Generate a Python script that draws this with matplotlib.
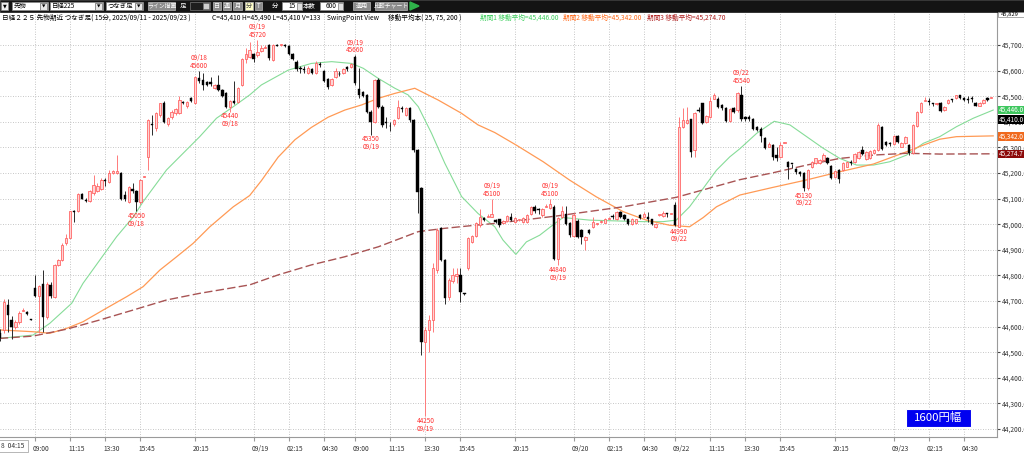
import matplotlib
matplotlib.use('Agg')
import matplotlib.pyplot as plt
import numpy as np
from matplotlib.patches import Rectangle, Polygon
from matplotlib.transforms import ScaledTranslation

plt.rcParams['font.family'] = ['Noto Sans CJK JP', 'DejaVu Sans']

# ---------------- data (15-minute bars, Nikkei 225 futures) ----------------
opens = [44575, 44586, 44683, 44627, 44598, 44618, 44662, 44657, 44628, 44751,
         44718, 44768, 44638, 44761, 44716, 44839, 44859, 44927, 44947, 45052,
         45050, 45119, 45093, 45089, 45120, 45130, 45139, 45170, 45165, 45200,
         45200, 45200, 45113, 45087, 45139, 45130, 45087, 45185, 45264, 45392,
         45374, 45427, 45475, 45391, 45418, 45433, 45433, 45476, 45460, 45492,
         45472, 45572, 45563, 45554, 45556, 45531, 45544, 45524, 45514, 45459,
         45482, 45479, 45544, 45644, 45655, 45665, 45660, 45676, 45690, 45700,
         45642, 45700, 45699, 45700, 45696, 45665, 45635, 45608, 45606, 45592,
         45605, 45592, 45625, 45600, 45566, 45544, 45574, 45587, 45592, 45613,
         45615, 45655, 45530, 45518, 45505, 45440, 45401, 45563, 45459, 45401,
         45385, 45392, 45414, 45452, 45427, 45453, 45408, 45290, 45140, 44541,
         44587, 44626, 44821, 44984, 44860, 44717, 44780, 44798, 44802, 44728,
         44828, 44932, 44955, 44997, 45025, 45030, 45030, 45016, 45019, 45003,
         45013, 45029, 45010, 45016, 45010, 45010, 45039, 45068, 45058, 45036,
         45068, 45062, 45068, 44866, 45030, 45039, 45006, 44954, 45013, 44977,
         44938, 44977, 44990, 45000, 45010, 45006, 45019, 45029, 45019, 45049,
         45036, 45019, 45000, 45003, 45036, 45029, 45029, 45019, 44990, 45035,
         45032, 45040, 45040, 45075, 44990, 45381, 45394, 45409, 45290, 45446,
         45472, 45400, 45420, 45491, 45491, 45465, 45452, 45405, 45452, 45446,
         45505, 45418, 45420, 45410, 45378, 45371, 45336, 45303, 45310, 45271,
         45264, 45319, 45244, 45235, 45215, 45205, 45199, 45140, 45225, 45241,
         45238, 45251, 45257, 45228, 45186, 45212, 45212, 45225, 45243, 45244,
         45257, 45290, 45255, 45257, 45280, 45290, 45381, 45322, 45315, 45314,
         45345, 45303, 45319, 45310, 45277, 45384, 45440, 45482, 45479, 45472,
         45470, 45475, 45447, 45472, 45485, 45494, 45503, 45494, 45487, 45489,
         45472, 45463, 45472, 45494, 45494]
highs = [44590, 44706, 44709, 44640, 44625, 44660, 44672, 44660, 44630, 44800,
         44762, 44820, 44775, 44775, 44845, 44865, 44925, 44960, 45052, 45055,
         45122, 45122, 45102, 45135, 45191, 45160, 45180, 45182, 45210, 45212,
         45269, 45205, 45130, 45150, 45160, 45135, 45175, 45188, 45410, 45427,
         45440, 45475, 45480, 45420, 45445, 45455, 45500, 45482, 45483, 45495,
         45578, 45600, 45590, 45558, 45575, 45548, 45583, 45528, 45518, 45485,
         45560, 45535, 45650, 45690, 45710, 45670, 45720, 45700, 45700, 45705,
         45705, 45705, 45705, 45705, 45700, 45668, 45640, 45618, 45618, 45618,
         45610, 45636, 45632, 45604, 45570, 45572, 45612, 45598, 45610, 45618,
         45630, 45660, 45609, 45522, 45510, 45445, 45568, 45570, 45465, 45420,
         45400, 45412, 45485, 45460, 45458, 45458, 45412, 45295, 45145, 44600,
         44646, 44848, 44984, 44990, 44865, 44788, 44828, 44828, 44828, 44730,
         44950, 44958, 45010, 45058, 45030, 45040, 45100, 45020, 45022, 45018,
         45036, 45045, 45027, 45020, 45027, 45040, 45072, 45075, 45065, 45062,
         45080, 45100, 45075, 45030, 45070, 45070, 45010, 45042, 45019, 44983,
         44955, 44980, 45029, 45003, 45015, 45024, 45030, 45040, 45052, 45052,
         45040, 45022, 45023, 45022, 45040, 45049, 45049, 45022, 45004, 45037,
         45050, 45042, 45042, 45085, 45420, 45452, 45459, 45412, 45440, 45459,
         45475, 45426, 45495, 45511, 45495, 45468, 45456, 45455, 45456, 45515,
         45540, 45422, 45425, 45413, 45382, 45381, 45340, 45323, 45314, 45303,
         45323, 45322, 45248, 45236, 45218, 45208, 45202, 45215, 45248, 45260,
         45255, 45277, 45262, 45232, 45212, 45215, 45242, 45245, 45250, 45277,
         45287, 45306, 45287, 45290, 45295, 45394, 45385, 45325, 45322, 45350,
         45348, 45320, 45346, 45314, 45392, 45444, 45476, 45495, 45492, 45473,
         45475, 45478, 45463, 45488, 45490, 45506, 45506, 45498, 45500, 45500,
         45476, 45476, 45488, 45497, 45497]
lows = [44545, 44575, 44579, 44553, 44590, 44612, 44660, 44645, 44625, 44715,
        44575, 44580, 44630, 44710, 44712, 44835, 44855, 44920, 44945, 45009,
        45048, 45098, 45085, 45085, 45115, 45125, 45135, 45150, 45160, 45198,
        45198, 45095, 45090, 45082, 45120, 45050, 45080, 45184, 45212, 45350,
        45365, 45420, 45395, 45385, 45412, 45428, 45430, 45468, 45455, 45478,
        45468, 45553, 45525, 45540, 45540, 45528, 45520, 45495, 45455, 45440,
        45468, 45475, 45540, 45630, 45650, 45635, 45655, 45672, 45688, 45640,
        45638, 45695, 45695, 45693, 45660, 45640, 45600, 45590, 45590, 45588,
        45588, 45588, 45615, 45555, 45530, 45538, 45570, 45578, 45588, 45600,
        45610, 45545, 45492, 45495, 45435, 45350, 45395, 45452, 45380, 45375,
        45365, 45385, 45410, 45440, 45422, 45400, 45282, 45043, 44489, 44250,
        44500, 44580, 44808, 44855, 44690, 44705, 44770, 44770, 44697, 44725,
        44820, 44928, 44950, 44990, 45012, 45029, 45028, 45005, 44990, 45000,
        45010, 45012, 45005, 45012, 45006, 45006, 45035, 45042, 45040, 45030,
        45068, 45058, 44860, 44840, 45025, 44995, 44950, 44950, 44948, 44922,
        44899, 44960, 44985, 44998, 45005, 45003, 45019, 45020, 45015, 45025,
        45015, 44996, 44996, 45000, 45020, 45025, 45010, 44996, 44987, 45033,
        45030, 45030, 45038, 44993, 44990, 45375, 45390, 45263, 45263, 45440,
        45390, 45396, 45415, 45488, 45455, 45448, 45398, 45400, 45436, 45440,
        45405, 45405, 45405, 45368, 45364, 45323, 45292, 45300, 45251, 45245,
        45260, 45318, 45176, 45220, 45198, 45190, 45130, 45135, 45220, 45236,
        45234, 45248, 45234, 45175, 45182, 45160, 45208, 45222, 45232, 45240,
        45253, 45270, 45252, 45253, 45275, 45286, 45290, 45305, 45305, 45310,
        45318, 45300, 45315, 45270, 45273, 45380, 45436, 45482, 45465, 45460,
        45465, 45440, 45444, 45468, 45478, 45490, 45490, 45480, 45475, 45478,
        45460, 45460, 45468, 45482, 45493]
closes = [44555, 44696, 44644, 44598, 44618, 44654, 44665, 44648, 44626, 44720,
          44757, 44638, 44768, 44718, 44839, 44859, 44917, 44947, 45050, 45048,
          45119, 45100, 45092, 45130, 45152, 45150, 45174, 45168, 45200, 45208,
          45208, 45100, 45100, 45145, 45130, 45087, 45171, 45187, 45407, 45388,
          45433, 45472, 45400, 45413, 45440, 45449, 45485, 45474, 45479, 45481,
          45574, 45559, 45544, 45544, 45546, 45544, 45524, 45500, 45459, 45481,
          45472, 45531, 45644, 45665, 45680, 45644, 45674, 45688, 45694, 45648,
          45700, 45698, 45700, 45698, 45665, 45644, 45605, 45605, 45604, 45612,
          45592, 45631, 45622, 45561, 45537, 45567, 45600, 45585, 45605, 45605,
          45625, 45553, 45505, 45500, 45440, 45401, 45563, 45459, 45388, 45395,
          45382, 45408, 45456, 45450, 45453, 45408, 45290, 45127, 44541, 44587,
          44626, 44828, 44977, 44860, 44710, 44782, 44802, 44804, 44737, 44727,
          44945, 44953, 45003, 45029, 45016, 45031, 45040, 45010, 44997, 45013,
          45032, 45016, 45023, 45016, 45023, 45036, 45068, 45053, 45057, 45058,
          45069, 45079, 44866, 45026, 45050, 45000, 44958, 45036, 44951, 44951,
          44951, 44964, 45010, 45001, 45010, 45019, 45019, 45028, 45049, 45029,
          45019, 45000, 45019, 45019, 45023, 45039, 45019, 45000, 45000, 45035,
          45045, 45039, 45040, 44995, 45381, 45407, 45407, 45283, 45433, 45443,
          45394, 45422, 45482, 45504, 45459, 45452, 45403, 45450, 45440, 45511,
          45410, 45410, 45410, 45371, 45368, 45345, 45297, 45314, 45264, 45258,
          45310, 45321, 45225, 45234, 45202, 45195, 45140, 45212, 45244, 45257,
          45251, 45270, 45238, 45179, 45208, 45176, 45238, 45242, 45241, 45273,
          45283, 45273, 45283, 45287, 45290, 45387, 45294, 45310, 45313, 45345,
          45322, 45316, 45342, 45277, 45388, 45440, 45472, 45483, 45478, 45471,
          45470, 45443, 45459, 45485, 45484, 45503, 45494, 45485, 45486, 45488,
          45463, 45472, 45485, 45485, 45496]

# moving averages (bar index, value)
ma25_idx = [0, 8.5, 12.8, 18.4, 21.3, 25.6, 29.9, 34.2, 36.7, 42.7, 47.8, 51.2, 55.5,
            59.8, 64, 67, 73.9, 79.8, 85, 90.1, 93.1, 96.9, 101.2, 104.6, 107.2, 110.6,
            114, 118.3, 122.5, 126.8, 128.9, 132.2, 134.9, 138.3, 142.2, 144.3, 147.7,
            151.1, 159.7, 164.8, 169.9, 173.3, 176.7, 180.2, 183.6, 187, 189.6, 193.9,
            198.4, 202.4, 206.7, 211, 215.2, 219.5, 223.8, 228, 232.3, 236.6, 240.8,
            245.1, 249.4, 254.5]
ma25_val = [44554, 44567, 44613, 44691, 44769, 44860, 44951, 45029, 45088, 45212, 45290,
            45342, 45414, 45459, 45505, 45544, 45602, 45628, 45635, 45628, 45609, 45570,
            45531, 45505, 45459, 45355, 45238, 45108, 45042, 44990, 44938, 44882, 44931,
            44957, 45003, 45026, 45021, 45016, 45012, 45010, 45010, 45016, 45068, 45140,
            45211, 45263, 45295, 45355, 45402, 45388, 45342, 45296, 45257, 45231, 45231,
            45244, 45270, 45316, 45342, 45381, 45414, 45446]
ma75_idx = [0, 8.5, 12.8, 17.1, 21.3, 26.5, 32.5, 36.7, 41, 45.3, 49.5, 53.8, 59.8, 64,
            67, 71.3, 75.6, 79.8, 84.1, 88.4, 92.7, 97, 101.2, 106.3, 108.9, 112.3, 118.3,
            122.5, 126.8, 132.3, 139.2, 146, 152.8, 159.7, 165.6, 171.6, 176.7, 180.2,
            183.6, 189.6, 198.1, 206.7, 215.2, 223.8, 232.3, 236.6, 240.8, 245.1, 254.5]
ma75_val = [44587, 44580, 44574, 44593, 44619, 44665, 44717, 44756, 44821, 44873, 44925,
            44990, 45068, 45112, 45170, 45262, 45330, 45378, 45418, 45446, 45466, 45492,
            45511, 45531, 45511, 45485, 45433, 45388, 45358, 45309, 45244, 45172, 45107,
            45049, 45016, 44996, 44990, 45026, 45068, 45114, 45144, 45173, 45205, 45235,
            45283, 45309, 45332, 45342, 45345]
ma200_idx = [0, 8.5, 17.1, 25.6, 34.2, 42.7, 51.2, 64, 71.3, 79.8, 88.4, 97, 107.2, 114,
             122.5, 126.8, 142.6, 159.7, 173.3, 189.6, 198.1, 206.7, 215.2, 223.8, 232.3,
             240.8, 254.5]
ma200_val = [44554, 44563, 44590, 44626, 44665, 44704, 44730, 44763, 44802, 44841, 44873,
             44912, 44971, 44984, 44997, 45003, 45032, 45068, 45105, 45174, 45201, 45231,
             45257, 45270, 45277, 45274, 45275]

# swing points (SwingPoint View)
swing_idx = [35, 51, 59, 66, 91, 95, 109, 126, 141, 143, 174, 190, 206]
swing_price = [45050, 45600, 45440, 45720, 45660, 45350, 44250, 45100, 45100, 44840,
               44990, 45540, 45130]
swing_date = ['09/18', '09/18', '09/18', '09/19', '09/19', '09/19', '09/19', '09/19',
              '09/19', '09/19', '09/22', '09/22', '09/22']
swing_kind = ['L', 'H', 'L', 'H', 'H', 'L', 'L', 'H', 'H', 'L', 'L', 'H', 'L']

# axis ticks
xtick_idx = [9, 18, 27, 36, 50, 65, 74, 83, 91, 100, 109, 118, 132, 147, 156, 165, 173,
             182, 191, 200, 214, 229, 238, 247]
xtick_lbl = ['09:00', '11:15', '13:30', '15:45', '20:15', '09/19', '02:15', '04:30',
             '09:00', '11:15', '13:30', '15:45', '20:15', '09/20', '02:15', '04:30',
             '09/22', '11:15', '13:30', '15:45', '20:15', '09/23', '02:15', '04:30']
ytick_vals = list(range(44200, 45701, 100))

# last values shown on the price axis
last_vals = [45446.0, 45410.0, 45342.0, 45274.7]
last_cols = ['#3ec75e', '#000000', '#f06a1e', '#8c0a0a']

# ---------------- figure ----------------
W, H = 1024, 453
fig = plt.figure(figsize=(W / 100, H / 100), dpi=100)
fig.patch.set_facecolor('white')

ax_top, ax_bot, ax_right = 12, 437, 997
ax = fig.add_axes([0, (H - ax_bot) / H, ax_right / W, (ax_bot - ax_top) / H])
ax.set_facecolor('white')
ax.set_xlim(0.033, 255.47)
ax.set_ylim(44168.8, 45828.9)

grid_kw = dict(color='#b4b4b4', lw=0.6, ls=(0, (1, 2)))
ax.set_yticks(ytick_vals)
ax.set_yticklabels([f'{v:,}.0' for v in ytick_vals])
ax.yaxis.tick_right()
ax.set_xticks(xtick_idx)
ax.set_xticklabels(xtick_lbl)
ax.grid(True, **grid_kw)
ax.set_axisbelow(True)
ax.tick_params(axis='y', length=2, pad=1.5, labelsize=4.8, colors='#444444',
               labelcolor='#333333')
ax.tick_params(axis='x', length=3, pad=2.5, labelsize=4.8, colors='#999999',
               labelcolor='#333333')
for lbl in ax.get_xticklabels():
    lbl.set_horizontalalignment('left')
    lbl.set_transform(lbl.get_transform() + ScaledTranslation(-2 / 100, 0, fig.dpi_scale_trans))
for s in ['left', 'top']:
    ax.spines[s].set_visible(False)
for s in ['right', 'bottom']:
    ax.spines[s].set_color('#9a9a9a')
    ax.spines[s].set_linewidth(0.8)

# moving averages
ax.plot(ma25_idx, ma25_val, color='#86dc98', lw=0.8, zorder=2)
ax.plot(ma75_idx, ma75_val, color='#ff9a55', lw=0.9, zorder=2)
ax.plot(ma200_idx, ma200_val, color='#a85454', lw=1.0, ls=(0, (6, 2.4)), zorder=2)

# candles
o = np.array(opens, float)
h = np.array(highs, float)
l = np.array(lows, float)
c = np.array(closes, float)
x = np.arange(len(o))
up = c >= o
bb = np.minimum(o, c)
bh = np.maximum(np.abs(c - o), 3.5)
ax.vlines(x[up], l[up], h[up], color='#ff7a7a', lw=0.7, zorder=3)
ax.vlines(x[~up], l[~up], h[~up], color='#2a2a2a', lw=0.7, zorder=3)
ax.bar(x[up], bh[up], bottom=bb[up], width=0.6, color='#ffd4d4', edgecolor='#ff5c5c',
       linewidth=0.55, zorder=4)
ax.bar(x[~up], bh[~up], bottom=bb[~up], width=0.6, color='black', edgecolor='black',
       linewidth=0.3, zorder=4)

# swing labels
for i, p, d, k in zip(swing_idx, swing_price, swing_date, swing_kind):
    if k == 'H':
        ax.annotate(f'{d}\n{p}', xy=(i, p), xytext=(0, 0.6), textcoords='offset points',
                    ha='center', va='bottom', fontsize=4.6, color='#ff3030',
                    linespacing=0.95, zorder=6)
    else:
        ax.annotate(f'{p}\n{d}', xy=(i, p), xytext=(0, -0.6), textcoords='offset points',
                    ha='center', va='top', fontsize=4.6, color='#ff3030',
                    linespacing=0.95, zorder=6)

# last value boxes on price axis
for v, col in zip(last_vals, last_cols):
    ax.annotate(f'{v:,.1f}', xy=(1, v), xycoords=('axes fraction', 'data'),
                xytext=(1.2, 0), textcoords='offset points', ha='left', va='center',
                fontsize=4.6, color='white', annotation_clip=False, zorder=7,
                bbox=dict(boxstyle='square,pad=0.05', fc=col, ec='none'))

# ---------------- overlay (toolbar, header, badges) ----------------
ov = fig.add_axes([0, 0, 1, 1], zorder=10)
ov.set_xlim(0, W)
ov.set_ylim(H, 0)
ov.axis('off')
ov.patch.set_alpha(0)


def rect(x0, y0, x1, y1, fc, ec=None, lw=0.5):
    ov.add_patch(Rectangle((x0, y0), x1 - x0, y1 - y0, fc=fc, ec=ec if ec else fc, lw=lw))


def txt(xp, yp, s, color='black', size=4.5, ha='left', **kw):
    ov.text(xp, yp, s, color=color, fontsize=size, ha=ha, va='center', **kw)


# toolbar
rect(0, 0, W, 11.5, '#141414')
rect(1, 2, 8, 10, '#f0f0f0', '#888888')
txt(4.5, 6, '▼', size=3.5, ha='center', family=['DejaVu Sans'])
for (x0, x1, label) in [(12, 48, '先物'), (50, 103, '日経225'), (106, 143, 'つなぎ足')]:
    rect(x0, 2, x1, 10, 'white', '#888888')
    txt(x0 + 2, 6, label, size=4.6)
    rect(x1 - 8, 2.5, x1 - 1, 9.5, '#e8e8e8', '#666666')
    txt(x1 - 4.5, 6, '▼', size=3.2, ha='center', family=['DejaVu Sans'])
rect(148, 2, 175, 10, '#8c8c8c', '#bbbbbb')
txt(161.5, 6, 'ライン描画', color='white', size=4.2, ha='center')
txt(183, 6, '足', color='white', size=4.6, ha='center')
rect(190, 2, 210, 10, '#1e1e1e', '#777777')
rect(203, 3, 209, 9, '#cfcfcf', '#777777')
for (x0, x1, label, fc, tc) in [(213, 221, '日', '#8c8c8c', 'white'),
                                (223, 231, '週', '#8c8c8c', 'white'),
                                (233, 242, '月', '#8c8c8c', 'white'),
                                (245, 253, '分', '#ffffc8', '#444444'),
                                (255, 262, 'T', '#8c8c8c', 'white')]:
    rect(x0, 2, x1, 10, fc, '#bbbbbb')
    txt((x0 + x1) / 2, 6, label, color=tc, size=4.4, ha='center')
txt(275, 6, '分', color='white', size=4.6, ha='center')
rect(282, 2, 302, 10, 'white', '#888888')
txt(296, 6, '15', size=4.6, ha='right')
rect(296.5, 2.5, 301.5, 9.5, '#e0e0e0', '#777777')
txt(309.5, 6, '本数', color='white', size=4.6, ha='center')
rect(320, 2, 343, 10, 'white', '#888888')
txt(337, 6, '600', size=4.6, ha='right')
rect(337.5, 2.5, 342.5, 9.5, '#e0e0e0', '#777777')
rect(353, 2, 370, 10, '#8c8c8c', '#bbbbbb')
txt(361.5, 6, '適用', color='white', size=4.4, ha='center')
rect(375, 2, 407, 10, '#8c8c8c', '#bbbbbb')
txt(391, 6, '比較チャート', color='white', size=4.2, ha='center')
ov.add_patch(Polygon([[410, 2], [410, 10], [419, 6]], closed=True, fc='#2fb34a', ec='#2fb34a'))

# header line
hy = 17.5
txt(2, hy, '日経２２５ 先物期近 つなぎ足( 15分, 2025/09/11 - 2025/09/23 )', size=4.8)
txt(212, hy, 'C=45,410 H=45,490 L=45,410 V=133', size=4.8)
txt(327, hy, 'SwingPoint View', size=4.8)
txt(388, hy, '移動平均本( 25, 75, 200 )', size=4.8)
txt(480, hy, '期間1 移動平均=45,446.00', color='#3ecf5e', size=4.8)
txt(563, hy, '期間2 移動平均=45,342.00', color='#ff6a1a', size=4.8)
txt(647, hy, '期間3 移動平均=45,274.70', color='#b02020', size=4.8)

# top-right price box
rect(998, 11.5, 1026, 17, 'white', '#888888')
txt(1001, 14.3, '45,829', size=4.2)

# bottom-left time box
rect(-1, 440, 28, 452, 'white', '#9a9a9a')
txt(1, 446, '8  04:15', size=4.8, color='#333333')

# range badge
rect(906, 409, 971, 427, '#0000f0', 'white', lw=0.8)
txt(938.5, 418, '1600円幅', color='white', size=8.2, ha='center')

fig.savefig('out.png', dpi=100)
